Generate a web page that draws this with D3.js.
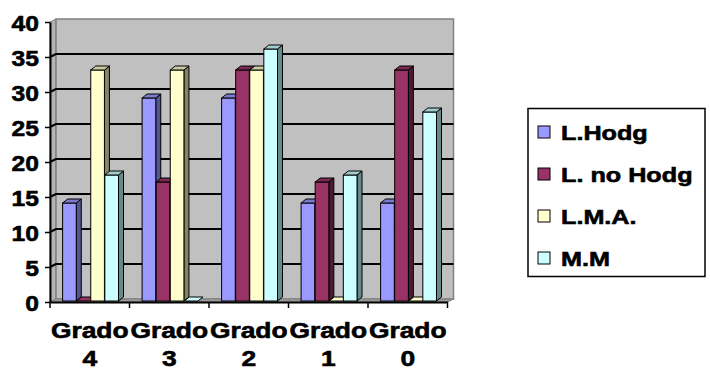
<!DOCTYPE html>
<html>
<head>
<meta charset="utf-8">
<script src="https://cdn.jsdelivr.net/npm/d3@7"></script>
<style>
  html, body { margin: 0; padding: 0; background: #fff; }
  svg { display: block; font-family: "Liberation Sans", Arial, sans-serif; }
</style>
</head>
<body>
<svg id="chart" width="710" height="374"></svg>
<script>
// Categories and series
const categories = ["Grado 4", "Grado 3", "Grado 2", "Grado 1", "Grado 0"];
const seriesNames = ["L.Hodg", "L. no Hodg", "L.M.A.", "M.M"];
const lHodg   = [14, 29, 29, 14, 14];
const lNoHodg = [0, 17, 33, 17, 33];
const lma     = [33, 33, 33, 0, 0];
const mm      = [18, 0, 36, 18, 27];
const yTicks  = [0, 5, 10, 15, 20, 25, 30, 35, 40];

const seriesValues = [lHodg, lNoHodg, lma, mm];
const faceColors = ["#9999ff", "#993366", "#ffffcc", "#ccffff"];
const sideColors = ["#55558f", "#4d1a33", "#858566", "#668a8a"];
const topColors  = ["#7a7acc", "#7a2952", "#ccccA3", "#a3cccc"];

const svg = d3.select("#chart");

// Plot frame (front plane) and depth offset of the back wall
const left = 50, right = 447.5, base = 302, topY = 22;
const wdx = 6, wdy = -3;   // wall depth
const bdx = 5, bdy = -4;   // bar depth

const y = d3.scaleLinear().domain([0, 40]).range([base, topY]);
const x0 = d3.scaleBand().domain(categories).range([left, right]).paddingInner(0).paddingOuter(0);
const groupPad = 11.6;
const x1 = d3.scaleBand().domain(seriesNames).range([groupPad, x0.bandwidth() - groupPad]).padding(0);

// Horizontally stretched bold text helper
function stretchedText(g, x, yy, txt, size, sx, anchor) {
  return g.append("text")
    .attr("transform", `translate(${x},${yy}) scale(${sx},1)`)
    .attr("text-anchor", anchor)
    .attr("font-size", size)
    .attr("font-weight", "bold")
    .attr("fill", "#000")
    .attr("stroke", "#000")
    .attr("stroke-width", 0.6)
    .text(txt);
}

// Walls and floor
const walls = svg.append("g");
// left side wall
walls.append("polygon")
  .attr("points", [[left, base], [left + wdx, base + wdy], [left + wdx, topY + wdy], [left, topY]].join(" "))
  .attr("fill", "#b4b4b4").attr("stroke", "#808080").attr("stroke-width", 1);
// back wall
walls.append("rect")
  .attr("x", left + wdx).attr("y", topY + wdy)
  .attr("width", right - left).attr("height", base - topY)
  .attr("fill", "#c0c0c0").attr("stroke", "#808080").attr("stroke-width", 1.5);
// floor
walls.append("polygon")
  .attr("points", [[left, base], [right, base], [right + wdx, base + wdy], [left + wdx, base + wdy]].join(" "))
  .attr("fill", "#9a9a9a").attr("stroke", "#808080").attr("stroke-width", 1);

// Gridlines across side wall and back wall
walls.selectAll("polyline.grid")
  .data(yTicks.filter(d => d > 0 && d < 40))
  .join("polyline")
  .attr("class", "grid")
  .attr("points", d => [[left, y(d)], [left + wdx, y(d) + wdy], [right + wdx, y(d) + wdy]].join(" "))
  .attr("fill", "none").attr("stroke", "#000").attr("stroke-width", 2);

// Bars (3D columns), drawn left to right so each face covers its neighbour's side
const bars = svg.append("g").attr("transform", "translate(1,-1)");
const barW = x1.bandwidth() - 0.4;
categories.forEach((cat, ci) => {
  seriesNames.forEach((s, si) => {
    const v = seriesValues[si][ci];
    const bx = x0(cat) + x1(s);
    const by = y(v);
    const bb = y(0);
    const g = bars.append("g");
    if (v > 0) {
      // right side
      g.append("polygon")
        .attr("points", [[bx + barW, by], [bx + barW + bdx, by + bdy], [bx + barW + bdx, bb + bdy], [bx + barW, bb]].join(" "))
        .attr("fill", sideColors[si]).attr("stroke", "#000").attr("stroke-width", 1).attr("stroke-linejoin", "round");
      // front face
      g.append("rect")
        .attr("x", bx).attr("y", by).attr("width", barW).attr("height", bb - by)
        .attr("fill", faceColors[si]).attr("stroke", "#000").attr("stroke-width", 1);
    }
    // top face
    g.append("polygon")
      .attr("points", [[bx, by], [bx + bdx, by + bdy], [bx + barW + bdx, by + bdy], [bx + barW, by]].join(" "))
      .attr("fill", v > 0 ? topColors[si] : faceColors[si]).attr("stroke", "#000").attr("stroke-width", 1).attr("stroke-linejoin", "round");
  });
});

// Y axis
const yAxis = svg.append("g")
  .attr("transform", `translate(${left},0)`)
  .call(d3.axisLeft(y).tickValues(yTicks).tickSize(5).tickSizeOuter(0));
yAxis.select(".domain").attr("stroke", "#000").attr("stroke-width", 2);
yAxis.selectAll(".tick line").attr("stroke", "#000").attr("stroke-width", 1.5);
yAxis.selectAll(".tick text").remove();
yAxis.selectAll(".tick").each(function (d) {
  stretchedText(d3.select(this), -11, 8, String(d), 22, 1.12, "end");
});

// X axis
const xAxis = svg.append("g")
  .attr("transform", `translate(0,${base})`)
  .call(d3.axisBottom(x0).tickSize(0).tickSizeOuter(0));
xAxis.select(".domain").attr("stroke", "#000").attr("stroke-width", 2);
xAxis.selectAll(".tick text").remove();
xAxis.selectAll(".tick").each(function (d) {
  const parts = d.split(" ");
  stretchedText(d3.select(this), 0, 36, parts[0], 22, 1.2, "middle");
  stretchedText(d3.select(this), 0, 64, parts[1], 22, 1.2, "middle");
});
// Category boundary ticks
xAxis.selectAll("line.bound")
  .data(d3.range(categories.length + 1))
  .join("line")
  .attr("class", "bound")
  .attr("x1", i => left + i * x0.step()).attr("x2", i => left + i * x0.step())
  .attr("y1", 0).attr("y2", 6)
  .attr("stroke", "#000").attr("stroke-width", 1.5);

// Legend
const legend = svg.append("g");
legend.append("rect")
  .attr("x", 528).attr("y", 108.5).attr("width", 177).attr("height", 168)
  .attr("fill", "#fff").attr("stroke", "#000").attr("stroke-width", 1.5);
const ly = d3.scalePoint().domain(seriesNames).range([132, 258]);
seriesNames.forEach((s, si) => {
  legend.append("rect")
    .attr("x", 538).attr("y", ly(s) - 6).attr("width", 12).attr("height", 12)
    .attr("fill", faceColors[si]).attr("stroke", "#000").attr("stroke-width", 1);
  stretchedText(legend, 561, ly(s) + 7.5, s, 21, 1.2, "start");
});
</script>
</body>
</html>
